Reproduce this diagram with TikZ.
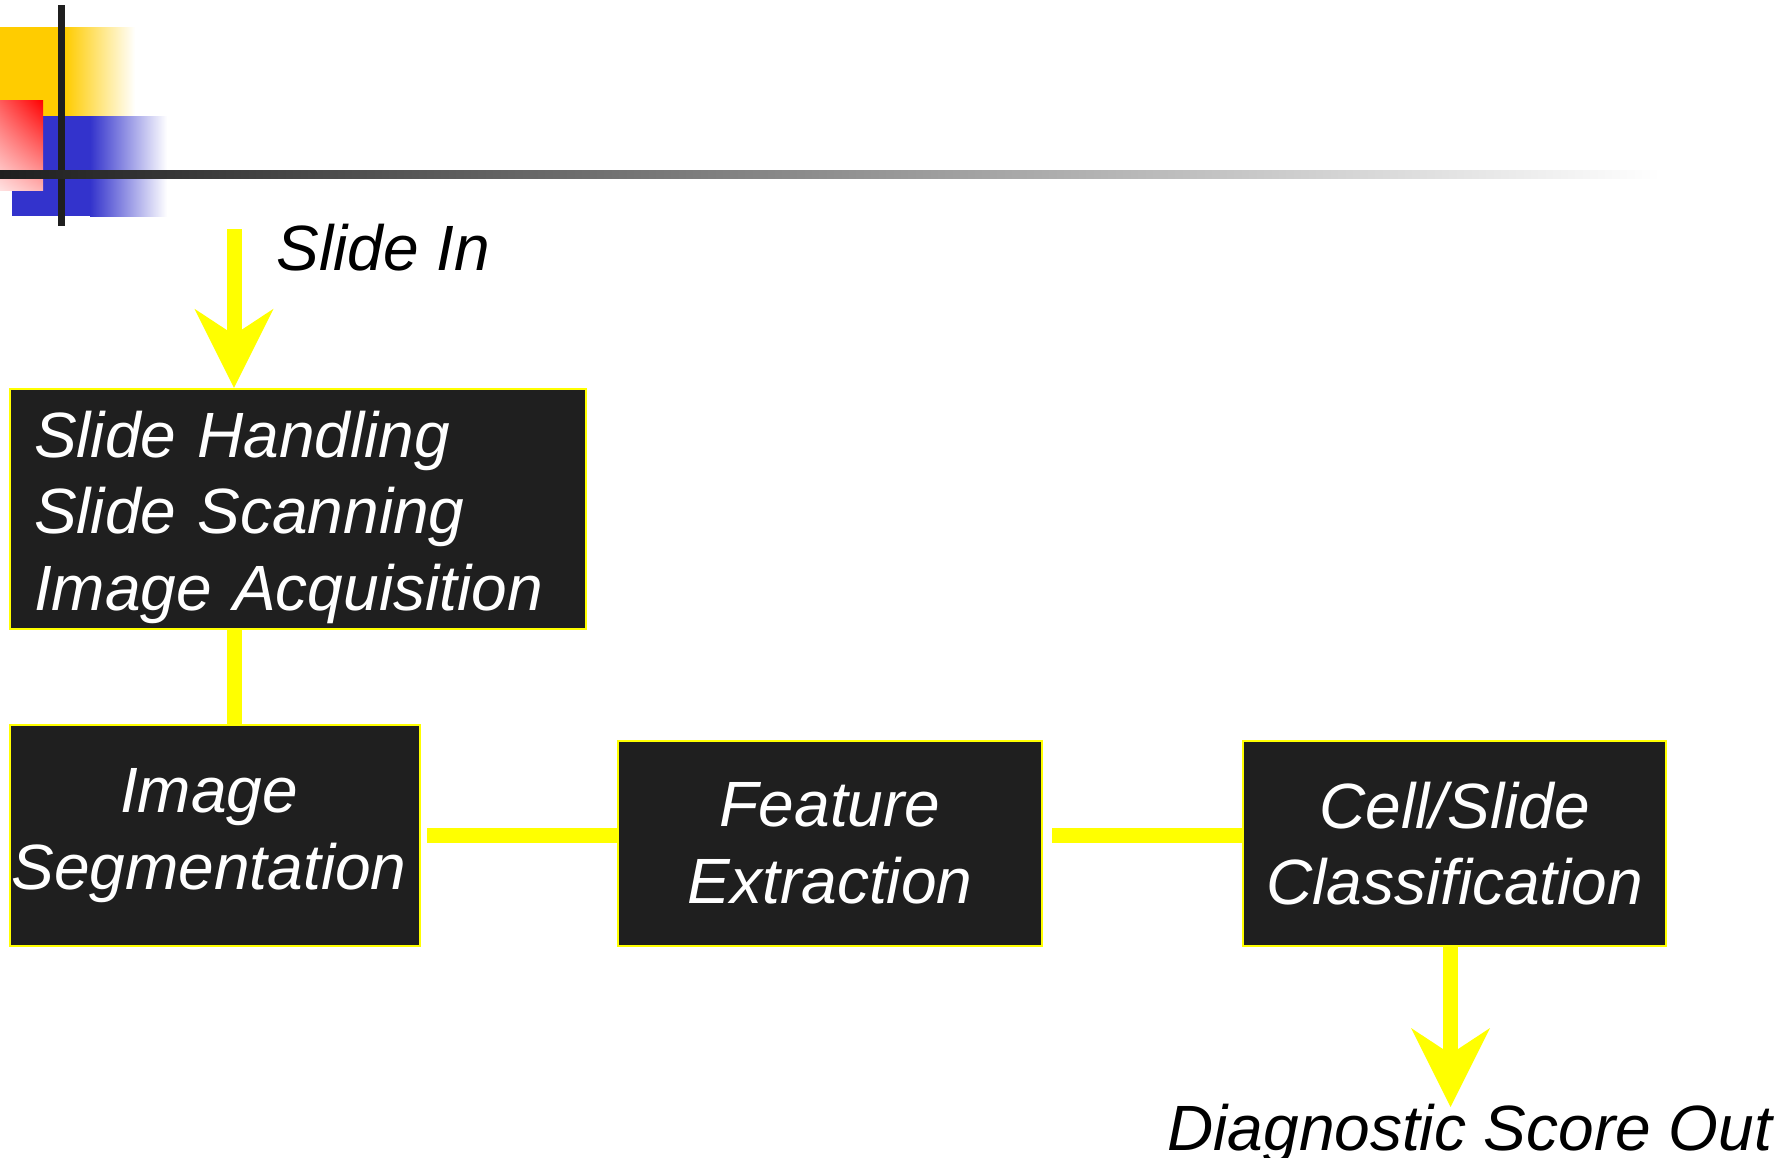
\documentclass[tikz,border=0pt]{standalone}
\usepackage{fontspec}
\setmainfont{Liberation Sans}
\usetikzlibrary{arrows.meta, positioning, shadings}

\definecolor{boxfill}{HTML}{1F1F1F}
\definecolor{flowyellow}{HTML}{FFFF00}
\definecolor{decogold}{HTML}{FFCC00}
\definecolor{decoblue}{HTML}{3333CC}

\begin{document}
\begin{tikzpicture}[x=0.5pt, y=-0.5pt]


        % Setup the styles for the boxes, lines and labels
        \tikzset{box style/.style={draw=flowyellow,
                                   fill=boxfill,
                                   line width=1.2pt,
                                   text=white,
                                   font=\fontsize{32}{38.3}\selectfont\itshape,
                                   align=center,
                                   inner sep=0pt},
                 flow line/.style={flowyellow, line width=7.5pt},
                 flow arrow/.style={flow line,
                                    -{Stealth[length=39.5pt, width=39.5pt, inset=13pt, line width=0pt]}},
                 label style/.style={font=\fontsize{32}{38.3}\selectfont\itshape,
                                     inner sep=0pt}}

\useasboundingbox (0,0) rectangle (1791,1157);

% Corner decoration
\fill[decogold] (0,27) rectangle (65,116);
\shade[left color=decogold, right color=white] (65,27) rectangle (135,116);
\fill[decoblue] (12,116) rectangle (90,216);
\shade[left color=decoblue, right color=white] (90,116) rectangle (167,216);
\shade[upper right=red, upper left=red!65!white,
       lower left=red!12!white, lower right=red!30!white] (0,100) rectangle (43,190);
\fill[boxfill] (58,5) rectangle (65,226);
\shade[left color=boxfill, right color=white] (0,170) rectangle (1660,178);

% Add the boxes
\node[box style, minimum width=288pt, minimum height=120pt,
      text width=264pt, align=left] at (298,509) (scan)
      {\rule{0pt}{31.5pt}Slide Handling\\Slide Scanning\\Image Acquisition};

\node[box style, minimum width=205pt, minimum height=110.5pt] at (215,835.5) (seg)
      {Image\hspace*{6pt}\\Segmentation\hspace*{6pt}};

\node[box style, minimum width=212pt, minimum height=102.5pt] at (830,843.5) (feat)
      {Feature\\Extraction};

\node[box style, minimum width=211.5pt, minimum height=102.5pt] at (1454.5,843.5) (class)
      {Cell/Slide\\Classification};

% Labels and free ends
\node[label style, anchor=base west] at (276,270) (slidein) {Slide In};
\node[label style, anchor=base west] at (1167,1150) (scoreout) {Diagnostic Score Out};

\coordinate (in) at (234,229);
\coordinate (out) at (1450.5,1107);

	 \draw[flow arrow] (in) -- (in |- scan.north);
	 \draw[flow line] (in |- scan.south) -- (in |- seg.north);
	 \draw[flow line, shorten <=3pt] (seg.east) -- (seg.east -| feat.west);
	 \draw[flow line, shorten <=4.5pt] (feat.east |- seg.east) -- (seg.east -| class.west);
	 \draw[flow arrow] (out |- class.south) -- (out);
\end{tikzpicture}
\end{document}
